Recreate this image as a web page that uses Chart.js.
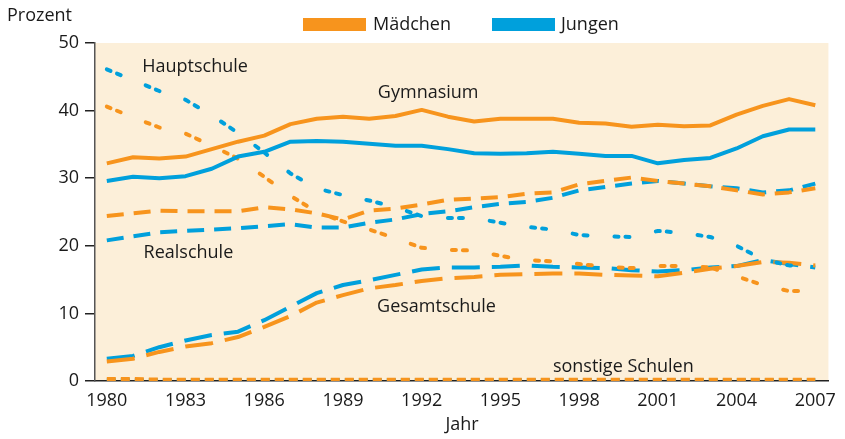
<!DOCTYPE html>
<html>
<head>
<meta charset="utf-8">
<script src="https://cdn.jsdelivr.net/npm/chart.js@4"></script>
<style>
  html, body { margin: 0; padding: 0; background: #fff; }
  canvas { display: block; }
</style>
</head>
<body>
<canvas id="chart" width="845" height="439"></canvas>
<script>
const years = [1980, 1981, 1982, 1983, 1984, 1985, 1986, 1987, 1988, 1989, 1990, 1991, 1992, 1993,
    1994, 1995, 1996, 1997, 1998, 1999, 2000, 2001, 2002, 2003, 2004, 2005, 2006, 2007];
const xTicks = [1980, 1983, 1986, 1989, 1992, 1995, 1998, 2001, 2004, 2007];
const yTicks = [0, 10, 20, 30, 40, 50];

// Prozent der Schüler nach Schulart
const gymMaedchen = [32.2, 33.1, 32.9, 33.2, 34.3, 35.4, 36.3, 38.0, 38.8, 39.1, 38.8, 39.2, 40.1, 39.1,
    38.4, 38.8, 38.8, 38.8, 38.2, 38.1, 37.6, 37.9, 37.7, 37.8, 39.4, 40.7, 41.7, 40.8];
const gymJungen = [29.6, 30.2, 30.0, 30.3, 31.4, 33.2, 33.9, 35.4, 35.5, 35.4, 35.1, 34.8, 34.8, 34.3,
    33.7, 33.6, 33.7, 33.9, 33.6, 33.3, 33.3, 32.2, 32.7, 33.0, 34.4, 36.2, 37.2, 37.2];
const realMaedchen = [24.4, 24.8, 25.2, 25.1, 25.1, 25.1, 25.7, 25.4, 24.8, 23.9, 25.2, 25.5, 26.1, 26.8,
    27.0, 27.2, 27.7, 27.9, 29.1, 29.6, 30.1, 29.6, 29.2, 28.8, 28.2, 27.6, 27.9, 28.5];
const realJungen = [20.8, 21.4, 22.0, 22.2, 22.4, 22.6, 22.9, 23.2, 22.7, 22.7, 23.4, 23.9, 24.7, 25.1,
    25.7, 26.2, 26.5, 27.1, 28.2, 28.7, 29.2, 29.6, 29.2, 28.8, 28.5, 27.9, 28.2, 29.2];
const hauptMaedchen = [40.6, 39.0, 37.5, 36.6, 34.8, 32.9, 30.2, 27.4, 25.0, 23.6, 22.4, 21.1, 19.7, 19.4,
    19.3, 18.5, 17.9, 17.7, 17.3, 16.9, 16.7, 17.0, 17.0, 16.8, 15.5, 14.2, 13.3, 13.3];
const hauptJungen = [46.1, 44.5, 42.9, 41.6, 39.3, 36.7, 33.8, 30.7, 28.5, 27.5, 26.7, 25.7, 24.4, 24.1,
    24.1, 23.4, 22.8, 22.4, 21.6, 21.4, 21.3, 22.2, 21.9, 21.3, 20.0, 18.0, 17.1, 16.9];
const gesMaedchen = [2.9, 3.3, 4.3, 5.1, 5.6, 6.5, 8.0, 9.6, 11.6, 12.7, 13.7, 14.2, 14.8, 15.2,
    15.4, 15.7, 15.8, 15.9, 15.9, 15.7, 15.6, 15.5, 16.0, 16.6, 17.0, 17.6, 17.5, 17.1];
const gesJungen = [3.3, 3.7, 5.0, 6.0, 6.8, 7.3, 9.0, 11.0, 13.0, 14.2, 14.9, 15.7, 16.5, 16.8,
    16.8, 16.9, 17.1, 16.9, 16.8, 16.7, 16.4, 16.2, 16.4, 16.8, 17.0, 17.9, 17.3, 16.8];
const sonstMaedchen = [0.3, 0.3, 0.2, 0.2, 0.2, 0.2, 0.2, 0.2, 0.2, 0.2, 0.2, 0.2, 0.2, 0.2,
    0.2, 0.2, 0.2, 0.2, 0.2, 0.2, 0.2, 0.2, 0.2, 0.2, 0.2, 0.2, 0.2, 0.2];
const sonstJungen = [0.1, 0.1, 0.1, 0.1, 0.1, 0.1, 0.1, 0.1, 0.1, 0.1, 0.1, 0.1, 0.1, 0.1,
    0.1, 0.1, 0.1, 0.1, 0.1, 0.1, 0.1, 0.1, 0.1, 0.1, 0.1, 0.1, 0.1, 0.1];

const ORANGE = '#f7941d';
const BLUE = '#00a0dc';
const FONT = "'Open Sans', 'Noto Sans', sans-serif";
const FONT_SIZE = 18;
const TEXT = '#1a1a1a';

// series labels inside the plot (data coordinates)
const schoolLabels = [
    { text: 'Hauptschule', x: 1981.35, y: 46.4 },
    { text: 'Gymnasium', x: 1990.33, y: 42.6 },
    { text: 'Realschule', x: 1981.4, y: 19.0 },
    { text: 'Gesamtschule', x: 1990.3, y: 10.9 },
    { text: 'sonstige Schulen', x: 1997.0, y: 2.1 }
];

const toPoints = (vals) => years.map((yr, i) => ({ x: yr, y: vals[i] }));

const styles = {
    gym: { borderDash: [], borderCapStyle: 'butt' },
    real: { borderDash: [17, 10], borderCapStyle: 'butt' },
    haupt: { borderDash: [4, 7, 4, 27], borderCapStyle: 'round' },
    ges: { borderDash: [28, 12], borderCapStyle: 'butt' },
    sonst: { borderDash: [9, 5], borderCapStyle: 'butt' }
};

function series(label, vals, color, kind) {
    return {
        label: label,
        data: toPoints(vals),
        borderColor: color,
        borderWidth: 4,
        borderDash: styles[kind].borderDash,
        borderCapStyle: styles[kind].borderCapStyle,
        borderJoinStyle: 'round',
        pointRadius: 0,
        tension: 0,
        fill: false
    };
}

const decorPlugin = {
    id: 'decor',
    beforeDraw: (chart) => {
        const { ctx, chartArea } = chart;
        ctx.save();
        ctx.fillStyle = '#fcefd9';
        ctx.fillRect(chartArea.left, chartArea.top, chartArea.right - chartArea.left, chartArea.bottom - chartArea.top);
        ctx.restore();
    },
    afterDraw: (chart) => {
        const { ctx, scales } = chart;
        const xs = scales.x, ys = scales.y;
        ctx.save();
        ctx.fillStyle = TEXT;
        ctx.font = `${FONT_SIZE}px ${FONT}`;
        ctx.textBaseline = 'middle';
        ctx.textAlign = 'left';
        schoolLabels.forEach(l => {
            ctx.fillText(l.text, xs.getPixelForValue(l.x), ys.getPixelForValue(l.y));
        });

        // axis titles
        ctx.fillText('Prozent', 7, 16);
        ctx.textAlign = 'center';
        ctx.fillText('Jahr', 462, 425);

        // legend
        ctx.textAlign = 'left';
        ctx.fillStyle = ORANGE;
        ctx.fillRect(303, 18, 63, 13);
        ctx.fillStyle = BLUE;
        ctx.fillRect(492, 18, 63, 13);
        ctx.fillStyle = TEXT;
        ctx.fillText('Mädchen', 373, 25);
        ctx.fillText('Jungen', 561, 25);
        ctx.restore();
    }
};

const chart = new Chart(document.getElementById('chart'), {
    type: 'line',
    plugins: [decorPlugin],
    data: {
        datasets: [
            series('Gymnasium Mädchen', gymMaedchen, ORANGE, 'gym'),
            series('Gymnasium Jungen', gymJungen, BLUE, 'gym'),
            series('Hauptschule Mädchen', hauptMaedchen, ORANGE, 'haupt'),
            series('Hauptschule Jungen', hauptJungen, BLUE, 'haupt'),
            series('Realschule Mädchen', realMaedchen, ORANGE, 'real'),
            series('Realschule Jungen', realJungen, BLUE, 'real'),
            series('Gesamtschule Mädchen', gesMaedchen, ORANGE, 'ges'),
            series('Gesamtschule Jungen', gesJungen, BLUE, 'ges'),
            series('sonstige Schulen Mädchen', sonstMaedchen, ORANGE, 'sonst'),
            series('sonstige Schulen Jungen', sonstJungen, BLUE, 'sonst')
        ]
    },
    options: {
        responsive: false,
        animation: false,
        layout: { padding: { top: 43, right: 7, left: 0, bottom: 0 } },
        plugins: {
            legend: { display: false },
            tooltip: { enabled: false }
        },
        scales: {
            x: {
                type: 'linear',
                min: 1979.55,
                max: 2007.5,
                afterBuildTicks: (scale) => { scale.ticks = xTicks.map(v => ({ value: v })); },
                afterFit: (scale) => { scale.height = 58; },
                grid: { display: false, drawTicks: false },
                border: { display: true, color: '#222', width: 1.5 },
                ticks: {
                    color: TEXT,
                    font: { family: FONT, size: FONT_SIZE },
                    padding: 9,
                    maxRotation: 0,
                    autoSkip: false,
                    callback: (v) => String(v)
                }
            },
            y: {
                min: 0,
                max: 50,
                afterBuildTicks: (scale) => { scale.ticks = yTicks.map(v => ({ value: v })); },
                afterFit: (scale) => { scale.width = 95; },
                grid: { drawOnChartArea: false, drawTicks: true, tickLength: 10, color: '#222', lineWidth: 1.5 },
                border: { display: true, color: '#555', width: 1.5 },
                ticks: {
                    color: TEXT,
                    font: { family: FONT, size: FONT_SIZE },
                    padding: 6
                }
            }
        }
    }
});
</script>
</body>
</html>
